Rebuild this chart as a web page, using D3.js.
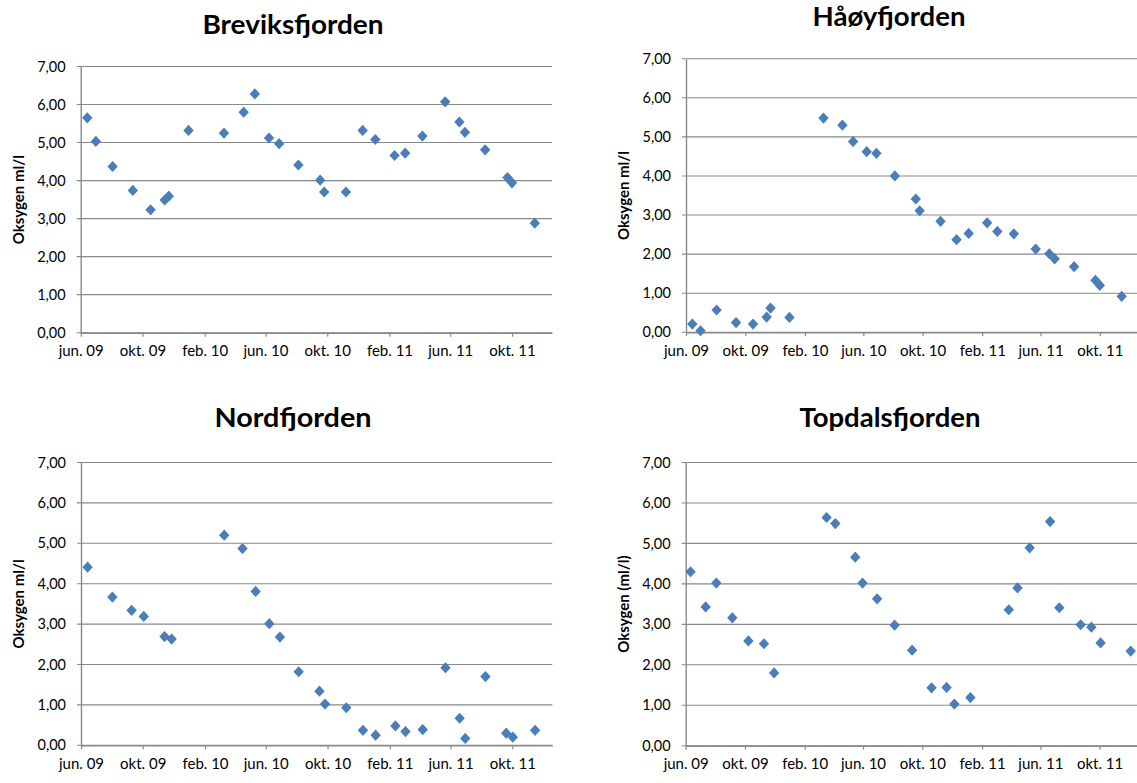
<!DOCTYPE html>
<html>
<head>
<meta charset="utf-8">
<script src="https://cdn.jsdelivr.net/npm/d3@7"></script>
<style>
  html, body { margin: 0; padding: 0; background: #ffffff; }
  svg { display: block; font-family: Lato, "Open Sans", sans-serif; }
</style>
</head>
<body>
<svg id="chart" width="1137" height="783"></svg>
<script>
// ---------- DATA ----------
const tickDates = ['2009-06-01','2009-10-01','2010-02-01','2010-06-01','2010-10-01','2011-02-01','2011-06-01','2011-10-01'];
const tickLabels = ['jun. 09','okt. 09','feb. 10','jun. 10','okt. 10','feb. 11','jun. 11','okt. 11'];
const yTickValues = [0, 1, 2, 3, 4, 5, 6, 7];
const xDomain = ['2009-06-01', '2011-12-19'];

const datesBrevikHaoy = ['2009-06-14','2009-07-01','2009-08-03','2009-09-12','2009-10-17','2009-11-14','2009-11-22','2009-12-31',
  '2010-03-11','2010-04-19','2010-05-11','2010-06-08','2010-06-28','2010-08-05','2010-09-17','2010-09-25','2010-11-07','2010-12-10',
  '2011-01-04','2011-02-11','2011-03-04','2011-04-07','2011-05-22','2011-06-19','2011-06-30','2011-08-09','2011-09-22','2011-10-01','2011-11-15'];
const valuesBreviksfjorden = [5.65, 5.03, 4.37, 3.74, 3.23, 3.49, 3.59, 5.32, 5.25, 5.80, 6.28, 5.12, 4.97, 4.41, 4.01, 3.70, 3.70, 5.32,
  5.08, 4.66, 4.72, 5.17, 6.07, 5.54, 5.27, 4.81, 4.08, 3.94, 2.88];
const valuesHaoyfjorden = [0.21, 0.04, 0.57, 0.25, 0.21, 0.39, 0.62, 0.38, 5.48, 5.30, 4.88, 4.62, 4.58, 4.00, 3.41, 3.11, 2.84, 2.37,
  2.53, 2.80, 2.58, 2.52, 2.13, 2.01, 1.88, 1.68, 1.33, 1.20, 0.92];

const datesNordfjorden = ['2009-06-14','2009-08-02','2009-09-09','2009-10-03','2009-11-13','2009-11-27','2010-03-11','2010-04-16','2010-05-12',
  '2010-06-08','2010-06-29','2010-08-05','2010-09-15','2010-09-26','2010-11-07','2010-12-10','2011-01-04','2011-02-12','2011-03-04',
  '2011-04-07','2011-05-22','2011-06-19','2011-06-30','2011-08-09','2011-09-19','2011-10-02','2011-11-15'];
const valuesNordfjorden = [4.41, 3.67, 3.34, 3.19, 2.69, 2.63, 5.20, 4.87, 3.81, 3.01, 2.68, 1.82, 1.34, 1.02, 0.93, 0.37, 0.25, 0.48, 0.34,
  0.39, 1.92, 0.67, 0.17, 1.70, 0.30, 0.20, 0.37];

const datesTopdalsfjorden = ['2009-06-11','2009-07-12','2009-08-03','2009-09-05','2009-10-08','2009-11-09','2009-11-30','2010-03-18','2010-04-05',
  '2010-05-16','2010-05-31','2010-06-30','2010-08-05','2010-09-10','2010-10-20','2010-11-20','2010-12-06','2011-01-08','2011-03-28',
  '2011-04-15','2011-05-10','2011-06-21','2011-07-10','2011-08-23','2011-09-14','2011-10-03','2011-12-04'];
const valuesTopdalsfjorden = [4.30, 3.43, 4.02, 3.16, 2.59, 2.52, 1.80, 5.64, 5.49, 4.66, 4.02, 3.63, 2.98, 2.36, 1.43, 1.44, 1.03, 1.19, 3.36,
  3.90, 4.89, 5.54, 3.41, 2.99, 2.93, 2.54, 2.34];

const titles = ['Breviksfjorden', 'Håøyfjorden', 'Nordfjorden', 'Topdalsfjorden'];
const yTitles = ['Oksygen ml/l', 'Oksygen ml/l', 'Oksygen ml/l', 'Oksygen (ml/l)'];

// ---------- LAYOUT ----------
const parse = d3.utcParse('%Y-%m-%d');
const panels = [
  { title: titles[0], yTitle: yTitles[0], dates: datesBrevikHaoy, values: valuesBreviksfjorden,
    left: 80.7, right: 552, top: 66.5, bottom: 332.7, titleX: 293, titleY: 34, titleW: 181, yTitleX: 24 },
  { title: titles[1], yTitle: yTitles[1], dates: datesBrevikHaoy, values: valuesHaoyfjorden,
    left: 686, right: 1138.2, top: 58.7, bottom: 332.3, titleX: 889, titleY: 26, titleW: 153, yTitleX: 629 },
  { title: titles[2], yTitle: yTitles[2], dates: datesNordfjorden, values: valuesNordfjorden,
    left: 81, right: 552.3, top: 462.5, bottom: 745.3, titleX: 293, titleY: 427, titleW: 157, yTitleX: 24 },
  { title: titles[3], yTitle: yTitles[3], dates: datesTopdalsfjorden, values: valuesTopdalsfjorden,
    left: 685.7, right: 1138, top: 462.5, bottom: 745.7, titleX: 890, titleY: 427, titleW: 181, yTitleX: 629 }
];

const svg = d3.select('#chart');
const gridColor = '#898989';
const markerColor = '#4a7ebb';
const fmt = v => d3.format('.2f')(v).replace('.', ',');

panels.forEach(p => {
  const x = d3.scaleUtc().domain(xDomain.map(parse)).range([p.left, p.right]);
  const y = d3.scaleLinear().domain([0, 7]).range([p.bottom, p.top]);
  const g = svg.append('g');

  // gridlines
  g.append('g').selectAll('line').data(yTickValues).join('line')
    .attr('x1', p.left - 4).attr('x2', p.right)
    .attr('y1', d => y(d)).attr('y2', d => y(d))
    .attr('stroke', gridColor).attr('stroke-width', 1.1);

  // y axis
  const ya = g.append('g').attr('transform', `translate(${p.left},0)`)
    .call(d3.axisLeft(y).tickValues(yTickValues).tickFormat(fmt).tickSize(0).tickPadding(15));
  ya.select('.domain').attr('stroke', gridColor).attr('stroke-width', 1.4);
  ya.selectAll('text').attr('font-size', 14.5).attr('fill', '#000').attr('font-family', 'Lato');

  // x axis
  const labelMap = new Map(tickDates.map((d, i) => [+parse(d), tickLabels[i]]));
  const xa = g.append('g').attr('transform', `translate(0,${p.bottom})`)
    .call(d3.axisBottom(x).tickValues(tickDates.map(parse)).tickFormat(d => labelMap.get(+d)).tickSizeInner(4).tickSizeOuter(0).tickPadding(9));
  xa.select('.domain').attr('stroke', gridColor).attr('stroke-width', 1.4);
  xa.selectAll('.tick line').attr('stroke', gridColor).attr('stroke-width', 1.2);
  xa.selectAll('text').attr('font-size', 15).attr('fill', '#000').attr('font-family', 'Lato');

  // markers
  const pts = p.dates.map((d, i) => ({ date: parse(d), value: p.values[i] }));
  g.append('g').selectAll('path').data(pts).join('path')
    .attr('transform', d => `translate(${x(d.date)},${y(d.value)})`)
    .attr('d', 'M0,-5.6L5.2,0L0,5.6L-5.2,0Z')
    .attr('fill', markerColor);

  // title
  g.append('text').attr('x', p.titleX).attr('y', p.titleY)
    .attr('text-anchor', 'middle').attr('font-size', 27).attr('font-weight', 'bold')
    .attr('font-family', 'Lato').attr('fill', '#000')
    .attr('textLength', p.titleW).attr('lengthAdjust', 'spacingAndGlyphs')
    .text(p.title);

  // y title
  const cy = (p.top + p.bottom) / 2;
  g.append('text').attr('transform', `translate(${p.yTitleX},${cy}) rotate(-90)`)
    .attr('text-anchor', 'middle').attr('font-size', 15).attr('font-weight', 'bold')
    .attr('font-family', 'Lato').attr('fill', '#000')
    .text(p.yTitle);
});
</script>
</body>
</html>
